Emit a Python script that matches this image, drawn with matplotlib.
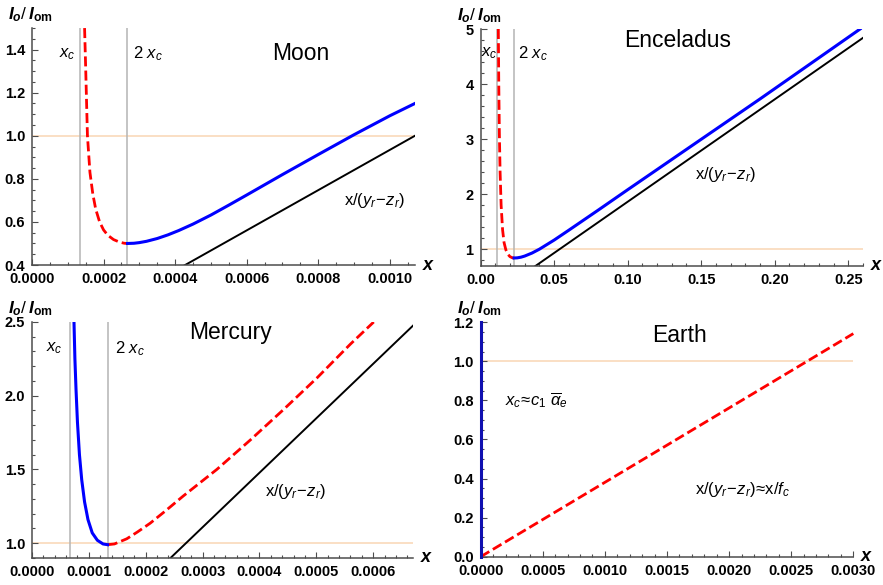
import numpy as np
import matplotlib.pyplot as plt
from matplotlib.ticker import MultipleLocator

plt.rcParams.update({
    "font.family": "Liberation Sans",
    "mathtext.fontset": "custom",
    "mathtext.rm": "Liberation Sans",
    "mathtext.it": "Liberation Sans:italic",
    "mathtext.bf": "Liberation Sans:bold",
    "mathtext.bfit": "Liberation Sans:italic:bold",
})

# --- data ---
# Moon
moon_xc = 0.000133
moon_red_x = [0.000147, 0.000150, 0.000155, 0.000162, 0.000170, 0.000178, 0.000189, 0.000200,
              0.000212, 0.000228, 0.000245, 0.000258, 0.000267]
moon_red_y = [1.50, 1.32, 1.00, 0.83, 0.73, 0.66, 0.60, 0.563, 0.538, 0.518, 0.506, 0.501, 0.50]
moon_blue_x = [0.000267, 0.000285, 0.00030, 0.00032, 0.00035, 0.00038, 0.00041, 0.00045, 0.00050,
               0.00055, 0.00060, 0.00070, 0.00080, 0.00090, 0.00100, 0.00107]
moon_blue_y = [0.50, 0.501, 0.504, 0.51, 0.523, 0.54, 0.56, 0.59, 0.632, 0.678, 0.725, 0.82,
               0.913, 1.005, 1.093, 1.15]
moon_black_x = [0.0, 0.00107]
moon_black_y = [0.0, 1.0]

# Enceladus
enc_xc = 0.0114
enc_red_x = [0.0121, 0.0124, 0.0128, 0.0133, 0.0140, 0.0150, 0.0160, 0.0172, 0.0185, 0.0200,
             0.0215, 0.0228]
enc_red_y = [5.0, 4.0, 3.1, 2.4, 1.8, 1.35, 1.12, 0.99, 0.91, 0.865, 0.845, 0.84]
enc_blue_x = [0.0228, 0.025, 0.0275, 0.030, 0.035, 0.040, 0.050, 0.060, 0.080, 0.10, 0.13, 0.16,
              0.19, 0.22, 0.258]
enc_blue_y = [0.84, 0.843, 0.855, 0.875, 0.93, 1.0, 1.165, 1.345, 1.71, 2.08, 2.63, 3.18, 3.73,
              4.29, 5.0]
enc_black_x = [0.0, 0.26]
enc_black_y = [0.0, 4.84]

# Mercury
mer_xc = 0.0000665
mer_blue_x = [0.0000739, 0.0000755, 0.0000775, 0.00008, 0.0000835, 0.0000875, 0.0000925,
              0.0000985, 0.000106, 0.000115, 0.000125, 0.000133]
mer_blue_y = [2.5, 2.25, 2.04, 1.82, 1.60, 1.43, 1.28, 1.16, 1.07, 1.02, 0.995, 0.99]
mer_red_x = [0.000133, 0.000145, 0.0001667, 0.000185, 0.000208, 0.000235, 0.000266, 0.000325,
             0.000384, 0.000442, 0.000501, 0.00056, 0.000601]
mer_red_y = [0.99, 0.995, 1.03, 1.075, 1.136, 1.22, 1.32, 1.50, 1.70, 1.905, 2.12, 2.35, 2.5]
mer_black_x = [0.0, 0.00067]
mer_black_y = [0.0, 2.475]

# Earth
earth_red_x = [0.0, 0.003]
earth_red_y = [0.0, 1.142]
earth_blue_x = [0.0, 0.0]
earth_blue_y = [0.0, 1.2]

# axis ticks
moon_xticks = [0.0, 0.0002, 0.0004, 0.0006, 0.0008, 0.0010]
moon_xlabels = ["0.0000", "0.0002", "0.0004", "0.0006", "0.0008", "0.0010"]
moon_yticks = [0.4, 0.6, 0.8, 1.0, 1.2, 1.4]
moon_ylabels = ["0.4", "0.6", "0.8", "1.0", "1.2", "1.4"]
enc_xticks = [0.0, 0.05, 0.10, 0.15, 0.20, 0.25]
enc_xlabels = ["0.00", "0.05", "0.10", "0.15", "0.20", "0.25"]
enc_yticks = [1, 2, 3, 4, 5]
enc_ylabels = ["1", "2", "3", "4", "5"]
mer_xticks = [0.0, 0.0001, 0.0002, 0.0003, 0.0004, 0.0005, 0.0006]
mer_xlabels = ["0.0000", "0.0001", "0.0002", "0.0003", "0.0004", "0.0005", "0.0006"]
mer_yticks = [1.0, 1.5, 2.0, 2.5]
mer_ylabels = ["1.0", "1.5", "2.0", "2.5"]
earth_xticks = [0.0, 0.0005, 0.0010, 0.0015, 0.0020, 0.0025, 0.0030]
earth_xlabels = ["0.0000", "0.0005", "0.0010", "0.0015", "0.0020", "0.0025", "0.0030"]
earth_yticks = [0.0, 0.2, 0.4, 0.6, 0.8, 1.0, 1.2]
earth_ylabels = ["0.0", "0.2", "0.4", "0.6", "0.8", "1.0", "1.2"]

BLUE = "#0000ff"
RED = "#ff0000"
GRAY = "#b4b4b4"
PEACH = "#f9d6b4"
AXC = "#4d4d4d"
DASH = (0, (3.6, 1.5))

fig = plt.figure(figsize=(8.83, 5.85), dpi=100)


def style_axes(ax, xlim, ylim, xt, xl, yt, yl, xminor, yminor):
    ax.set_xlim(*xlim)
    ax.set_ylim(*ylim)
    for s in ["top", "right"]:
        ax.spines[s].set_visible(False)
    for s in ["left", "bottom"]:
        ax.spines[s].set_color(AXC)
        ax.spines[s].set_linewidth(1.1)
    ax.set_xticks(xt, xl)
    ax.set_yticks(yt, yl)
    ax.xaxis.set_minor_locator(MultipleLocator(xminor))
    ax.yaxis.set_minor_locator(MultipleLocator(yminor))
    ax.tick_params(which="both", direction="in", color=AXC, width=0.8)
    ax.tick_params(which="major", length=4, labelsize=10.5)
    ax.tick_params(which="minor", length=2.2)
    ax.tick_params(axis="x", pad=5)
    ax.tick_params(axis="y", pad=5)
    for lab in ax.get_xticklabels() + ax.get_yticklabels():
        lab.set_fontweight("bold")
    # axis labels in Mathematica style
    ax.annotate(r"$\mathbfit{I}_{\mathbfit{o}}/\,\mathbfit{I}_{\mathbf{om}}$",
                xy=(0.0, 1.0), xycoords="axes fraction", xytext=(-1, 3),
                textcoords="offset points", ha="center", va="bottom", fontsize=12.5)
    ax.annotate(r"$\mathbfit{x}$", xy=(1.0, 0.0), xycoords="axes fraction",
                xytext=(5, 0), textcoords="offset points", ha="left", va="center",
                fontsize=13)


def label(ax, x, y, s, size=12, ha="left"):
    ax.text(x, y, s, fontsize=size, ha=ha, va="center")


# --- Moon ---
ax1 = fig.add_axes([0.0362, 0.547, 0.4337, 0.405])
style_axes(ax1, (0, 0.00107), (0.4, 1.5), moon_xticks, moon_xlabels, moon_yticks, moon_ylabels,
           0.00005, 0.05)
ax1.axhline(1.0, color=PEACH, lw=1.1, zorder=1)
ax1.axvline(moon_xc, color=GRAY, lw=1.1, zorder=1)
ax1.axvline(2 * moon_xc, color=GRAY, lw=1.1, zorder=1)
ax1.plot(moon_black_x, moon_black_y, color="black", lw=1.4, zorder=2)
ax1.plot(moon_red_x, moon_red_y, color=RED, lw=2, ls=DASH, zorder=3)
ax1.plot(moon_blue_x, moon_blue_y, color=BLUE, lw=2.2, zorder=3)
label(ax1, 0.000098, 1.38, r"$x_c$", ha="center")
label(ax1, 0.000283, 1.38, r"$2\ x_c$")
label(ax1, 0.00075, 1.38, "Moon", size=16.5, ha="center")
label(ax1, 0.000871, 0.70, r"$\mathrm{x}/(y_r\!-\!z_r)$")

# --- Enceladus ---
ax2 = fig.add_axes([0.5442, 0.5458, 0.4332, 0.4046])
style_axes(ax2, (0, 0.26), (0.7, 5.0), enc_xticks, enc_xlabels, enc_yticks, enc_ylabels,
           0.01, 0.2)
ax2.axhline(1.0, color=PEACH, lw=1.1, zorder=1)
ax2.axvline(enc_xc, color=GRAY, lw=1.1, zorder=1)
ax2.axvline(2 * enc_xc, color=GRAY, lw=1.1, zorder=1)
ax2.plot(enc_black_x, enc_black_y, color="black", lw=1.4, zorder=2)
ax2.plot(enc_red_x, enc_red_y, color=RED, lw=2, ls=DASH, zorder=3)
ax2.plot(enc_blue_x, enc_blue_y, color=BLUE, lw=2.2, zorder=3)
label(ax2, 0.0058, 4.56, r"$x_c$", ha="center")
label(ax2, 0.0255, 4.56, r"$2\ x_c$")
label(ax2, 0.134, 4.8, "Enceladus", size=16.5, ha="center")
label(ax2, 0.1457, 2.35, r"$\mathrm{x}/(y_r\!-\!z_r)$")

# --- Mercury ---
ax3 = fig.add_axes([0.0362, 0.0462, 0.4315, 0.4034])
style_axes(ax3, (0, 0.00067), (0.9, 2.5), mer_xticks, mer_xlabels, mer_yticks, mer_ylabels,
           0.00002, 0.1)
ax3.axhline(1.0, color=PEACH, lw=1.1, zorder=1)
ax3.axvline(mer_xc, color=GRAY, lw=1.1, zorder=1)
ax3.axvline(2 * mer_xc, color=GRAY, lw=1.1, zorder=1)
ax3.plot(mer_black_x, mer_black_y, color="black", lw=1.4, zorder=2)
ax3.plot(mer_red_x, mer_red_y, color=RED, lw=2, ls=DASH, zorder=3)
ax3.plot(mer_blue_x, mer_blue_y, color=BLUE, lw=2.2, zorder=3)
label(ax3, 0.0000396, 2.32, r"$x_c$", ha="center")
label(ax3, 0.000146, 2.32, r"$2\ x_c$")
label(ax3, 0.000349, 2.43, "Mercury", size=16.5, ha="center")
label(ax3, 0.00041, 1.35, r"$\mathrm{x}/(y_r\!-\!z_r)$")

# --- Earth ---
ax4 = fig.add_axes([0.5444, 0.0484, 0.422, 0.4007])
style_axes(ax4, (0, 0.003), (0.0, 1.2), earth_xticks, earth_xlabels, earth_yticks, earth_ylabels,
           0.0001, 0.05)
ax4.axhline(1.0, color=PEACH, lw=1.1, zorder=1)
ax4.plot(earth_red_x, earth_red_y, color=RED, lw=2, ls=DASH, zorder=3, clip_on=False)
ax4.plot(earth_blue_x, earth_blue_y, color="#1010b0", lw=2.2, zorder=3, clip_on=False)
label(ax4, 0.0016, 1.133, "Earth", size=16.5, ha="center")
label(ax4, 0.000196, 0.80, r"$x_c\!\approx\! c_1\ \overline{\alpha}_e$")
label(ax4, 0.001726, 0.343, r"$\mathrm{x}/(y_r\!-\!z_r)\!\approx\!\mathrm{x}/f_c$")

fig.savefig("out.png", dpi=100)
